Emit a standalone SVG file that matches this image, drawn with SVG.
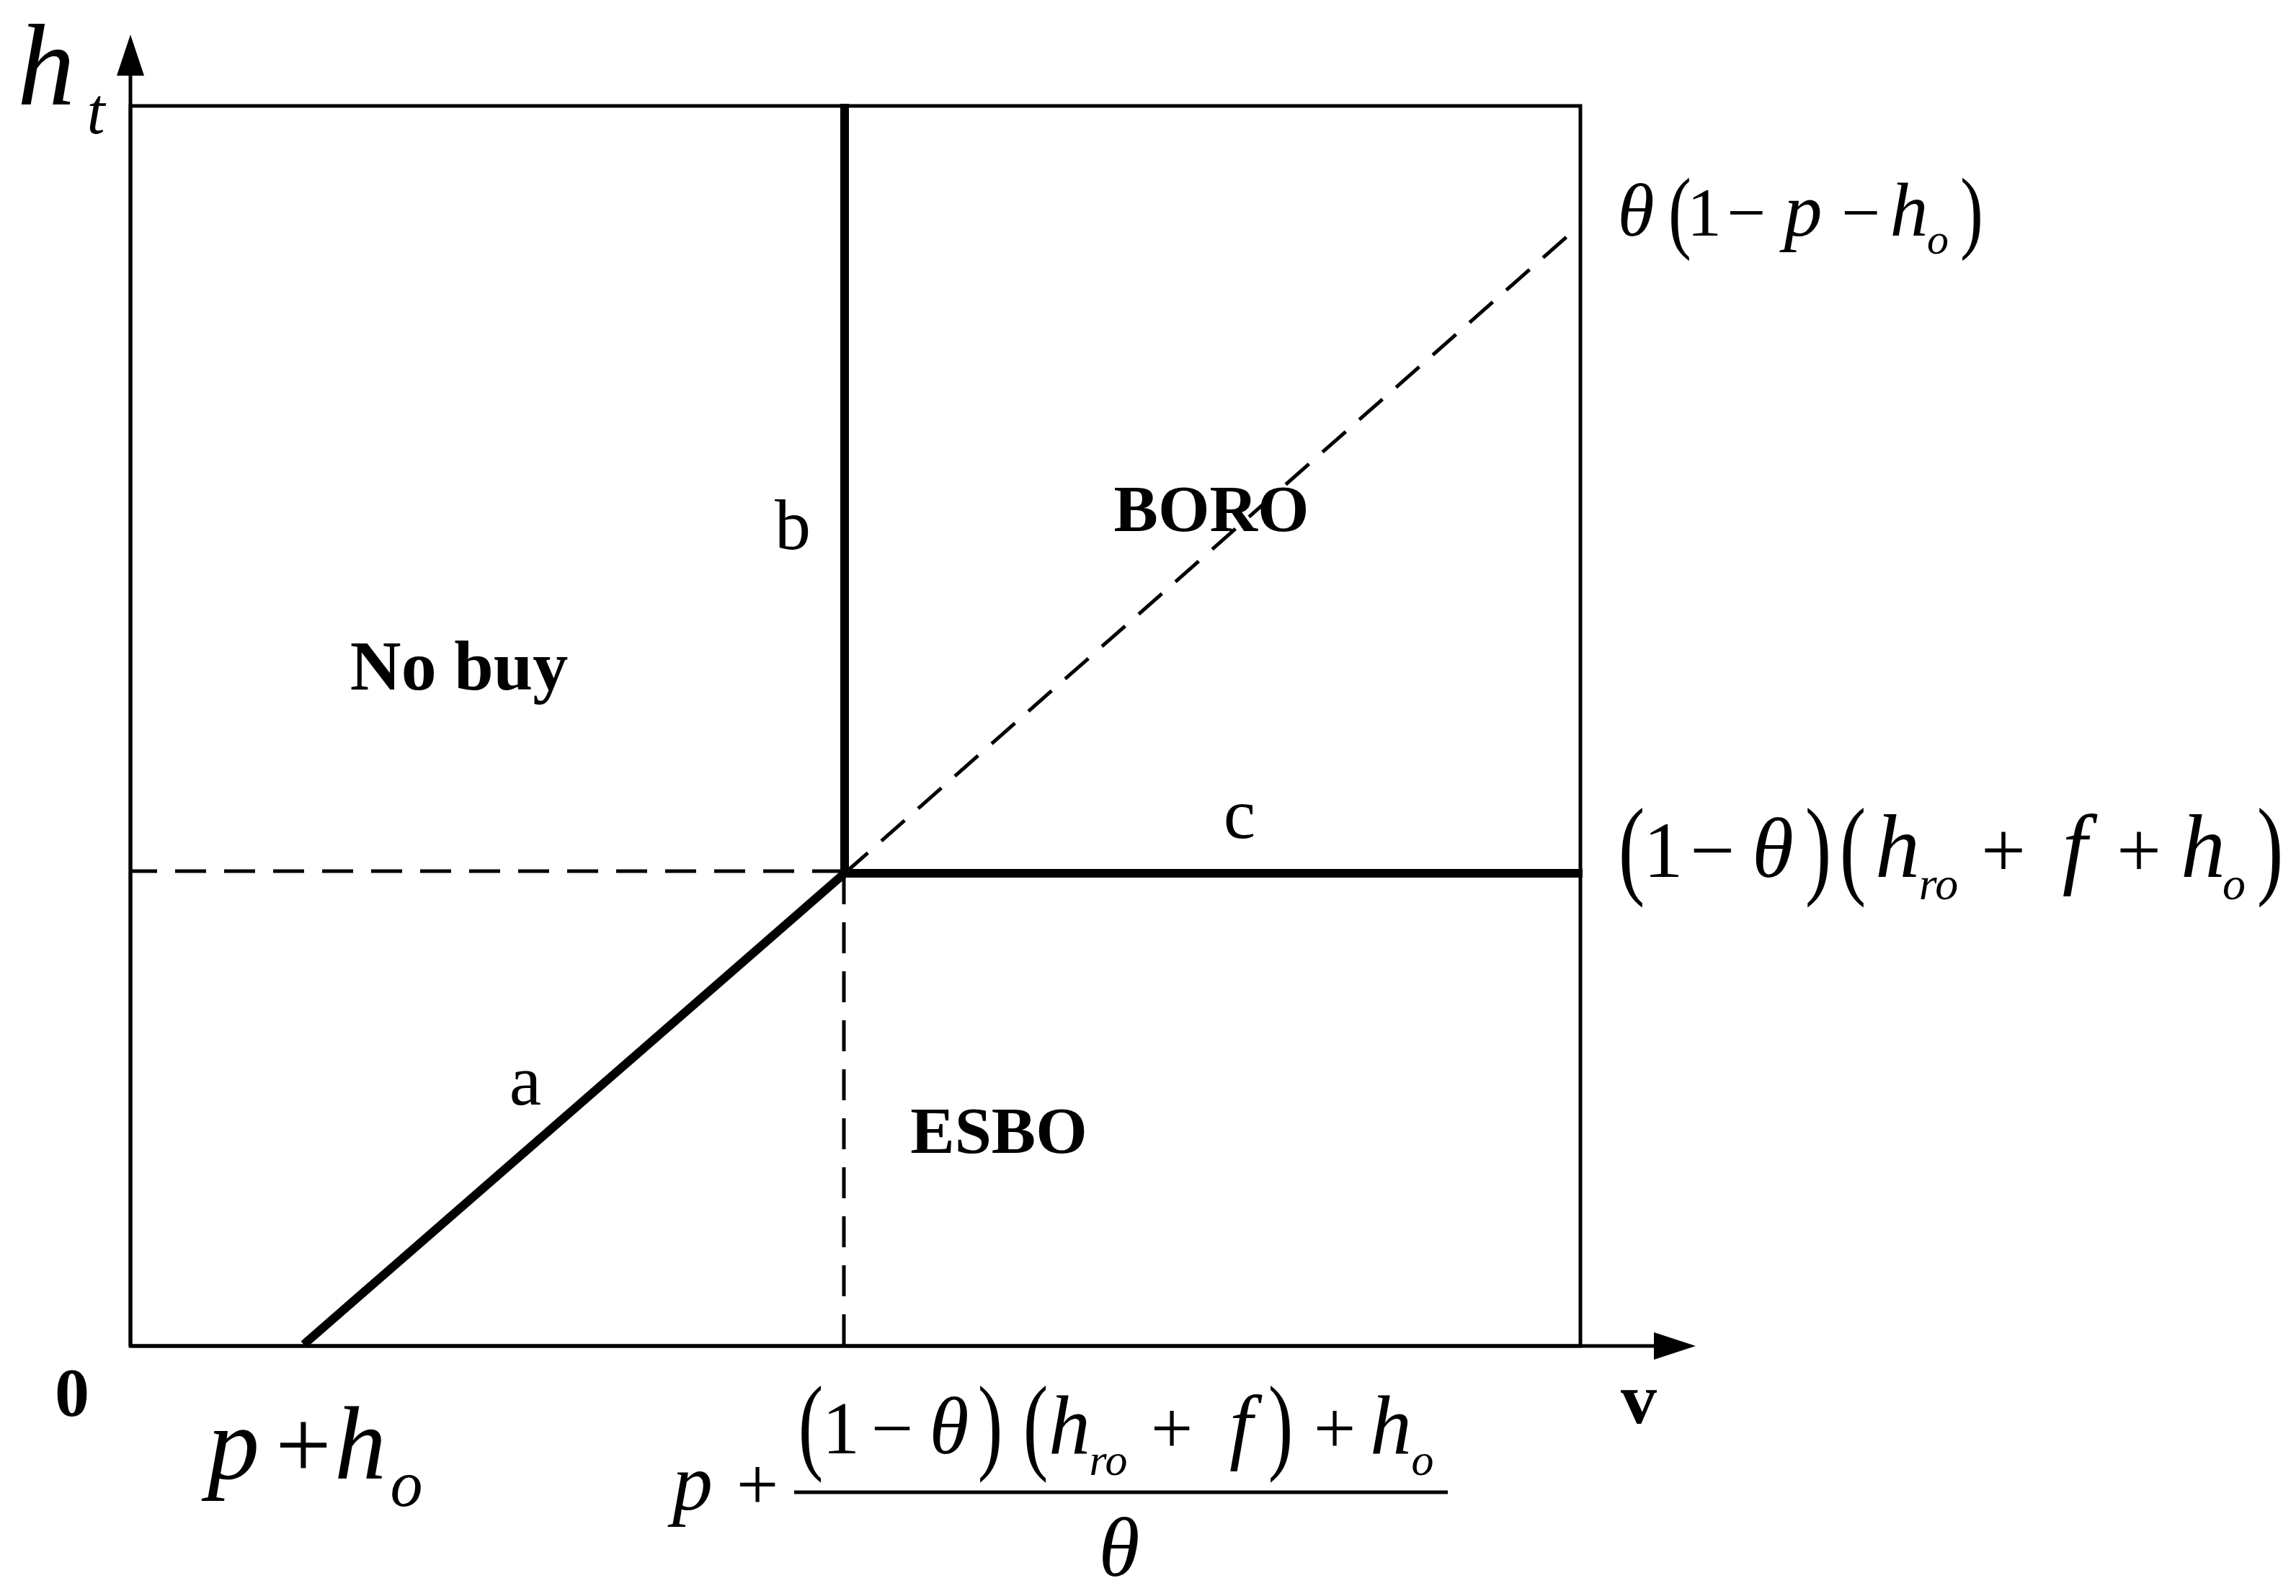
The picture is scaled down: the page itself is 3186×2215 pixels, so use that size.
<svg xmlns="http://www.w3.org/2000/svg" width="3186" height="2215" viewBox="0 0 3186 2215">
<style>
.thin{stroke:#000;stroke-width:5;fill:none}
.thick{stroke:#000;stroke-width:12;fill:none;stroke-linecap:square}
.dash{stroke:#000;stroke-width:5;fill:none;stroke-dasharray:43 25}
text{font-family:"Liberation Serif","Times New Roman",serif;fill:#000;text-anchor:middle}
.it{font-style:italic}
.bd{font-weight:bold}
</style>
<rect width="3186" height="2215" fill="#fff"/>
<g id="frame">
<rect class="thin" x="181" y="147" width="2012" height="1721"/>
<line class="thin" x1="181" y1="1868" x2="181" y2="100"/>
<polygon points="181,48 162,105 200,105" fill="#000"/>
<line class="thin" x1="181" y1="1868" x2="2300" y2="1868"/>
<polygon points="2353,1868 2295,1849 2295,1887" fill="#000"/>
</g>
<g id="connectors">
<line class="dash" x1="181" y1="1209" x2="1172" y2="1209" stroke-dashoffset="6"/>
<line class="dash" x1="1171" y1="1212" x2="1171" y2="1868"/>
<line class="dash" x1="1172" y1="1212" x2="2193" y2="312"/>
<line id="line-a" class="thick" x1="426" y1="1862" x2="1172" y2="1212"/>
<line id="line-b" class="thick" x1="1172" y1="150" x2="1172" y2="1212"/>
<line id="line-c" class="thick" x1="1172" y1="1212" x2="2190" y2="1212"/>
</g>
<g id="label-ht">
<text class="it" x="64" y="145" font-size="160">h</text>
<text class="it" x="133" y="185" font-size="90">t</text>
</g>
<g id="label-zero"><text class="bd" x="100" y="1965" font-size="96">0</text></g>
<g id="label-v"><text class="bd" x="2274" y="1975" font-size="100">v</text></g>
<g id="region-nobuy"><text class="bd" x="637" y="957" font-size="98">No buy</text></g>
<g id="region-boro"><text class="bd" x="1681" y="737" font-size="92">BORO</text></g>
<g id="region-esbo"><text class="bd" x="1386" y="1600" font-size="92">ESBO</text></g>
<g id="label-a"><text x="729" y="1533" font-size="100">a</text></g>
<g id="label-b"><text x="1100" y="762" font-size="100">b</text></g>
<g id="label-c"><text x="1720" y="1163" font-size="100">c</text></g>
<g id="label-theta" font-size="96">
<text class="it" x="2270" y="327" font-size="104">θ</text>
<text transform="translate(2331,305) scale(1,1.32)" y="23">(</text>
<text x="2365" y="327">1</text>
<text x="2423" y="327">−</text>
<text class="it" x="2502" y="327" font-size="106">p</text>
<text x="2582" y="327">−</text>
<text class="it" x="2649" y="327" font-size="106">h</text>
<text class="it" x="2689" y="352" font-size="60">o</text>
<text transform="translate(2736,305) scale(1,1.32)" y="23">)</text>
</g>
<g id="label-threshold" font-size="110">
<text transform="translate(2264,1191) scale(1,1.38)" y="26">(</text>
<text x="2308" y="1217">1</text>
<text x="2376" y="1217">−</text>
<text class="it" x="2460" y="1217" font-size="118">θ</text>
<text transform="translate(2523,1191) scale(1,1.38)" y="26">)</text>
<text transform="translate(2571,1191) scale(1,1.38)" y="26">(</text>
<text class="it" x="2633" y="1217" font-size="124">h</text>
<text class="it" x="2690" y="1248" font-size="64">ro</text>
<text x="2780" y="1217">+</text>
<text class="it" x="2879" y="1217" font-size="124">f</text>
<text x="2968" y="1217">+</text>
<text class="it" x="3057" y="1217" font-size="124">h</text>
<text class="it" x="3100" y="1248" font-size="64">o</text>
<text transform="translate(3150,1191) scale(1,1.38)" y="26">)</text>
</g>
<g id="label-pho">
<text class="it" x="324" y="2052" font-size="144">p</text>
<text x="421" y="2051" font-size="138">+</text>
<text class="it" x="500" y="2052" font-size="144">h</text>
<text class="it" x="564" y="2090" font-size="90">o</text>
</g>
<g id="label-fraction">
<text class="it" x="961" y="2095" font-size="112">p</text>
<text x="1051" y="2095" font-size="104">+</text>
<line x1="1102" y1="2071" x2="2009" y2="2071" stroke="#000" stroke-width="5"/>
<g font-size="104">
<text transform="translate(1125,1990) scale(1,1.42)" y="25">(</text>
<text x="1167" y="2017">1</text>
<text x="1238" y="2017">−</text>
<text class="it" x="1317" y="2017" font-size="112">θ</text>
<text transform="translate(1374,1990) scale(1,1.42)" y="25">)</text>
<text transform="translate(1437,1990) scale(1,1.42)" y="25">(</text>
<text class="it" x="1484" y="2017" font-size="116">h</text>
<text class="it" x="1538" y="2047" font-size="62">ro</text>
<text x="1626" y="2017">+</text>
<text class="it" x="1722" y="2017" font-size="116">f</text>
<text transform="translate(1777,1990) scale(1,1.42)" y="25">)</text>
<text x="1852" y="2017">+</text>
<text class="it" x="1930" y="2017" font-size="116">h</text>
<text class="it" x="1974" y="2047" font-size="62">o</text>
</g>
<text class="it" x="1553" y="2187" font-size="116">θ</text>
</g>
</svg>
